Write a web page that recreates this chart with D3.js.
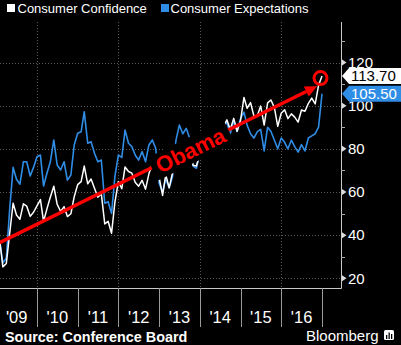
<!DOCTYPE html>
<html>
<head>
<meta charset="utf-8">
<script src="https://cdn.jsdelivr.net/npm/d3@7"></script>
<style>
  body { margin: 0; background: #000; }
  svg { display: block; font-family: "Liberation Sans", Arial, sans-serif; }
</style>
</head>
<body>
<div id="chart"></div>
<script>
// monthly index values, Jan 2009 .. Dec 2016
const seriesNames = ["Consumer Confidence", "Consumer Expectations"];
const startYear = 2009;
const confidence = [
  37.4, 25.3, 26.9, 40.8, 54.8, 49.3, 47.4, 54.5, 53.4, 48.7, 50.6, 53.6,
  56.5, 46.4, 52.3, 57.7, 62.7, 54.3, 51.0, 53.2, 48.6, 49.9, 57.8, 63.4,
  64.8, 72.0, 63.8, 66.0, 61.7, 57.6, 59.2, 45.2, 46.4, 40.9, 55.2, 64.8,
  61.5, 71.6, 69.5, 68.7, 64.4, 62.7, 65.4, 61.3, 68.4, 73.1, 71.5, 66.7,
  58.4, 68.0, 61.9, 69.0, 76.2, 81.4, 81.0, 81.8, 80.2, 72.4, 72.0, 77.5,
  79.4, 78.3, 83.9, 82.3, 82.2, 86.4, 90.3, 93.4, 89.0, 94.1, 88.1, 93.1,
  103.8, 98.8, 101.4, 95.2, 95.4, 99.8, 91.0, 101.3, 102.6, 99.1, 90.4, 96.5,
  98.1, 94.0, 96.2, 94.7, 92.4, 98.0, 97.4, 101.1, 103.5, 100.8, 109.4, 113.7
];
const expectations = [
  37.0, 27.1, 29.4, 52.0, 71.4, 65.9, 63.6, 74.0, 74.0, 67.4, 71.4, 76.3,
  77.1, 62.8, 68.8, 74.0, 84.1, 72.5, 70.2, 74.0, 65.5, 67.9, 81.8, 87.2,
  87.9, 97.2, 82.6, 83.3, 77.9, 74.0, 74.8, 54.8, 55.5, 50.1, 67.1, 77.1,
  76.0, 88.7, 82.6, 81.0, 77.0, 74.8, 78.7, 74.0, 81.8, 84.1, 80.2, 64.0,
  60.0, 66.0, 62.0, 67.0, 84.0, 91.0, 87.0, 89.5, 85.0, 72.0, 71.0, 78.0,
  80.0, 79.0, 84.0, 83.0, 85.0, 87.0, 91.0, 92.0, 87.0, 93.0, 88.0, 94.0,
  97.0, 91.0, 87.0, 85.0, 88.0, 89.0, 79.0, 90.0, 88.0, 84.0, 80.0, 85.0,
  83.0, 80.0, 84.0, 81.0, 78.5, 82.0, 79.0, 85.0, 86.0, 87.0, 90.0, 105.5
];
const yTicks = [20, 40, 60, 80, 100, 120];
const yMinorTicks = [30, 50, 70, 90, 110, 130];
const yearLabels = ["'09", "'10", "'11", "'12", "'13", "'14", "'15", "'16"];
const gridYears = [2010, 2012, 2014, 2016];
const lastLabels = ["113.70", "105.50"];
const arrowFrom = { date: new Date(2009, 0, 31), value: 36.5 };
const arrowTo = { date: new Date(2016, 10, 18), value: 109 };
const noteText = "Obama";
const sourceText = "Source: Conference Board";
const brandText = "Bloomberg";

const W = 401, H = 345,
  axisX = 341, axisTop = 22, axisBottom = 288, sepBottom = 327,
  blue = "#2f8de6", red = "#ff0000";

const svg = d3.select("#chart").append("svg")
  .attr("width", W).attr("height", H)
  .style("background", "#000");

const x = d3.scaleTime()
  .domain([new Date(2009, 0, 1), new Date(2017, 0, 1)])
  .range([-3.7, 322]);
const y = d3.scaleLinear().domain([20, 120]).range([278.3, 62.5]);

// month points are placed at the end of each month
const toPoints = vals => vals.map((v, i) => ({
  date: new Date(startYear, (i % 12) + 1 + Math.floor(i / 12) * 12, 1),
  value: v
}));
const confPts = toPoints(confidence), expPts = toPoints(expectations);

// dotted grid
svg.append("g").selectAll("line").data(yTicks).join("line")
  .attr("x1", 0).attr("x2", axisX)
  .attr("y1", d => Math.round(y(d)) + 0.5).attr("y2", d => Math.round(y(d)) + 0.5)
  .attr("stroke", "#5a5a5a").attr("stroke-dasharray", "1,2");
svg.append("g").selectAll("line").data(gridYears).join("line")
  .attr("x1", d => Math.round(x(new Date(d, 0, 1))) + 0.5)
  .attr("x2", d => Math.round(x(new Date(d, 0, 1))) + 0.5)
  .attr("y1", axisTop).attr("y2", axisBottom)
  .attr("stroke", "#5a5a5a").attr("stroke-dasharray", "1,2");

// series lines
const line = d3.line().x(d => x(d.date)).y(d => y(d.value));
svg.append("path").datum(expPts)
  .attr("d", line).attr("fill", "none")
  .attr("stroke", blue).attr("stroke-width", 1.6).attr("stroke-linejoin", "round");
svg.append("path").datum(confPts)
  .attr("d", line).attr("fill", "none")
  .attr("stroke", "#fff").attr("stroke-width", 1.5).attr("stroke-linejoin", "round");

// red arrow over the lines
const ax0 = x(arrowFrom.date), ay0 = y(arrowFrom.value),
  ax1 = x(arrowTo.date), ay1 = y(arrowTo.value);
const ang = Math.atan2(ay1 - ay0, ax1 - ax0);
const headLen = 12, headHalf = 5.5;
const bx = ax1 - headLen * Math.cos(ang), by = ay1 - headLen * Math.sin(ang);
svg.append("line")
  .attr("x1", ax0).attr("y1", ay0).attr("x2", bx).attr("y2", by)
  .attr("stroke", red).attr("stroke-width", 3.5);
svg.append("path")
  .attr("d", "M" + ax1 + "," + ay1 +
    "L" + (bx + headHalf * Math.sin(ang)) + "," + (by - headHalf * Math.cos(ang)) +
    "L" + (bx - headHalf * Math.sin(ang)) + "," + (by + headHalf * Math.cos(ang)) + "Z")
  .attr("fill", red);

const lastConf = confPts[confPts.length - 1];
svg.append("circle")
  .attr("cx", x(lastConf.date) - 1.5).attr("cy", y(lastConf.value) + 2)
  .attr("r", 6.5).attr("fill", "none")
  .attr("stroke", red).attr("stroke-width", 3);

// rotated label on a black plate
const note = svg.append("g")
  .attr("transform", "translate(190.5,150.5) rotate(" + (ang * 180 / Math.PI) + ")");
const plate = note.append("rect").attr("fill", "#000");
const noteLabel = note.append("text")
  .attr("text-anchor", "middle").attr("dominant-baseline", "central")
  .attr("fill", red).attr("font-weight", "bold").attr("font-size", 22)
  .text(noteText);
const bb = noteLabel.node().getBBox();
plate.attr("x", bb.x - 5).attr("y", bb.y).attr("width", bb.width + 10).attr("height", bb.height);

// axis frame
svg.append("line").attr("x1", axisX + 0.5).attr("x2", axisX + 0.5)
  .attr("y1", axisTop).attr("y2", axisBottom + 0.5)
  .attr("stroke", "#c8c8c8").attr("stroke-width", 1);
svg.append("line").attr("x1", 0).attr("x2", axisX + 0.5)
  .attr("y1", axisBottom + 0.5).attr("y2", axisBottom + 0.5)
  .attr("stroke", "#c8c8c8").attr("stroke-width", 1);

// y ticks: small triangles on majors, short dashes on minors
svg.append("g").selectAll("path").data(yTicks).join("path")
  .attr("d", d => "M" + (axisX + 1) + "," + (y(d) - 3) + "L" + (axisX + 5.5) + "," + y(d) +
    "L" + (axisX + 1) + "," + (y(d) + 3) + "Z")
  .attr("fill", "#ddd");
svg.append("g").selectAll("line").data(yMinorTicks).join("line")
  .attr("x1", axisX).attr("x2", axisX + 4)
  .attr("y1", d => Math.round(y(d)) + 0.5).attr("y2", d => Math.round(y(d)) + 0.5)
  .attr("stroke", "#aaa");
svg.append("g").selectAll("text").data(yTicks).join("text")
  .attr("x", 348).attr("y", d => y(d))
  .attr("dy", "0.35em").attr("fill", "#fff").attr("font-size", 15)
  .text(d => d);

// year separators and labels
const yearStarts = d3.range(startYear, startYear + yearLabels.length + 1);
svg.append("g").selectAll("line").data(yearStarts.slice(1)).join("line")
  .attr("x1", d => Math.round(x(new Date(d, 0, 1))) + 0.5)
  .attr("x2", d => Math.round(x(new Date(d, 0, 1))) + 0.5)
  .attr("y1", axisBottom).attr("y2", sepBottom)
  .attr("stroke", "#9a9a9a");
svg.append("g").selectAll("text").data(yearLabels).join("text")
  .attr("x", (d, i) => (x(new Date(startYear + i, 0, 1)) + x(new Date(startYear + i + 1, 0, 1))) / 2)
  .attr("y", 323).attr("text-anchor", "middle")
  .attr("fill", "#fff").attr("font-size", 16.5)
  .text(d => d);

// last value tags
[[lastLabels[0], 113.7, "#fff", "#000"], [lastLabels[1], 105.5, blue, "#fff"]].forEach(t => {
  const cy = y(t[1]);
  svg.append("path")
    .attr("d", "M" + (axisX + 1) + "," + cy + "L" + (axisX + 8) + "," + (cy - 8) +
      "L" + W + "," + (cy - 8) + "L" + W + "," + (cy + 8) + "L" + (axisX + 8) + "," + (cy + 8) + "Z")
    .attr("fill", t[2]);
  svg.append("text").attr("x", 351).attr("y", cy).attr("dy", "0.36em")
    .attr("fill", t[3]).attr("font-size", 15).text(t[0]);
});

// legend
const legend = svg.append("g");
[[7, "#fff", seriesNames[0], 17.5], [161, blue, seriesNames[1], 170.5]].forEach(l => {
  legend.append("rect").attr("x", l[0]).attr("y", 4).attr("width", 8).attr("height", 8).attr("fill", l[1]);
  legend.append("text").attr("x", l[3]).attr("y", 12.7)
    .attr("fill", "#fff").attr("font-size", 13).text(l[2]);
});

// footer
svg.append("text").attr("x", 5).attr("y", 341.5)
  .attr("fill", "#fff").attr("font-weight", "bold").attr("font-size", 14.4)
  .text(sourceText);
svg.append("text").attr("x", 306).attr("y", 341)
  .attr("fill", "#fff").attr("font-size", 15)
  .text(brandText);
const icon = svg.append("g").attr("transform", "translate(384,330)");
icon.append("rect").attr("width", 10).attr("height", 10).attr("rx", 1.5).attr("fill", "#fff");
[[2, 5, 4], [4.5, 2.5, 6.5], [7, 4, 5]].forEach(b => {
  icon.append("rect").attr("x", b[0]).attr("y", b[1]).attr("width", 1.3).attr("height", b[2]).attr("fill", "#000");
});
</script>
</body>
</html>
